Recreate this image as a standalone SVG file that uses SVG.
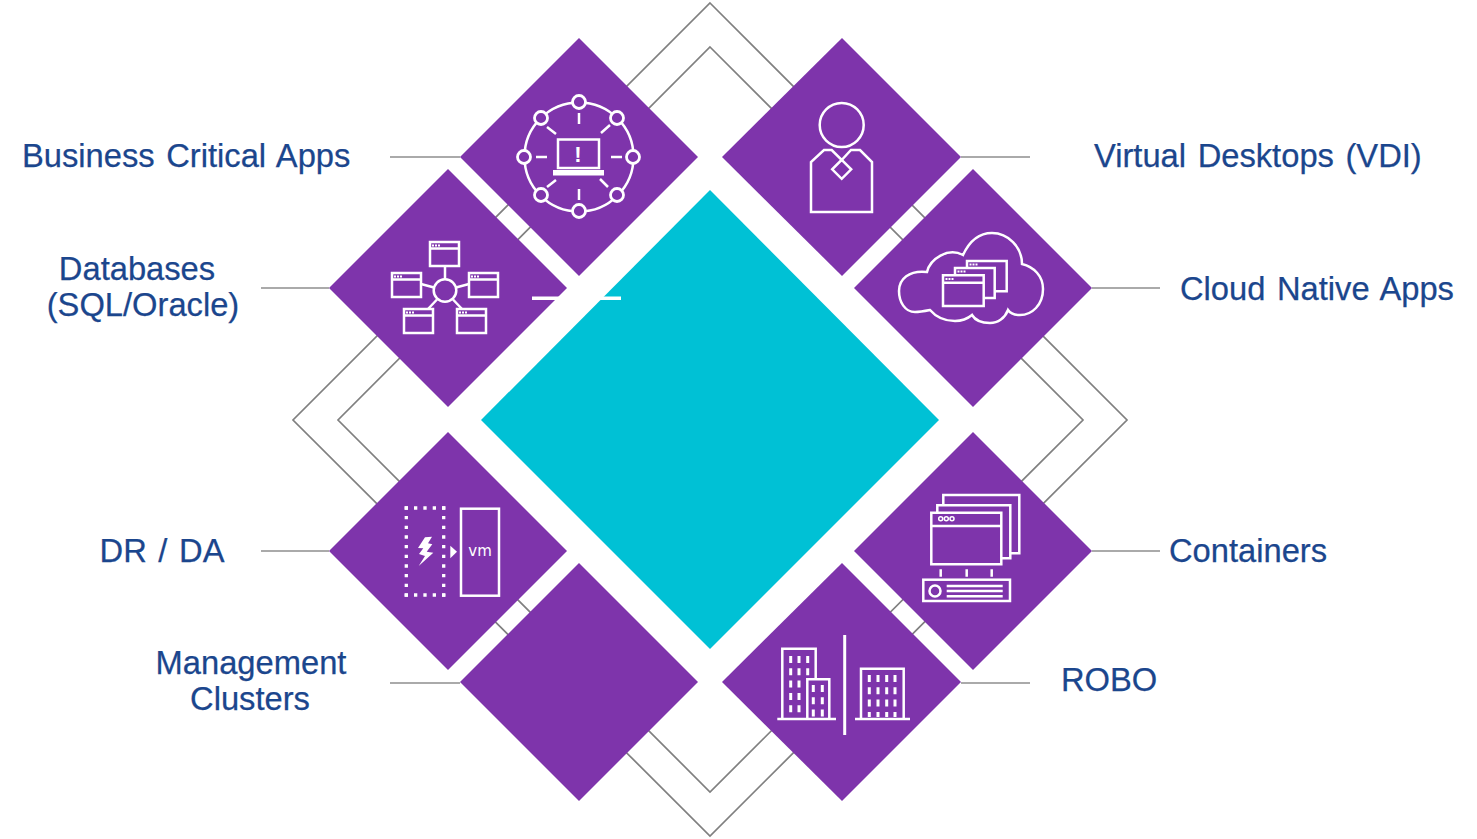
<svg xmlns="http://www.w3.org/2000/svg" width="1477" height="839" viewBox="0 0 1477 839">
<style>
.d{fill:#7e34ab}
.l{fill:none;stroke:#808080;stroke-width:1.7}
.h{fill:none;stroke:#aaa;stroke-width:2}
.i{fill:none;stroke:#fff;stroke-width:2.500}
.f{fill:#fff}
.t{font-family:"Liberation Sans",Arial,sans-serif;font-size:32.700px;fill:#1b468d;stroke:#1b468d;stroke-width:.25;word-spacing:2.500px}
</style>
<rect width="1477" height="839" fill="#fff"/>
<g id="connectors">
<polygon class="l" points="710,3 1127,420 710,836 293,420"/>
<polygon class="l" points="710,47 1083,420 710,792 338,420"/>
<path class="h" d="M390 157H460M261 288H329M261 551H329M390 683H460M961 157H1030M1092 288H1160M1092 551H1160M961 683H1030"/>
</g>
<g id="center"><polygon points="710,190 939,420 710,649 481,420" fill="#00c1d5"/></g>
<g id="business-critical">
<polygon class="d" points="579,38 698,157 579,276 460,157"/>
<circle class="i" cx="579" cy="157" r="54.500"/>
<g fill="#7e34ab" stroke="#fff" stroke-width="2.800"><circle cx="579" cy="102" r="6.500"/><circle cx="579" cy="211" r="6.500"/><circle cx="524" cy="157" r="6.500"/><circle cx="633" cy="157" r="6.500"/><circle cx="541" cy="118" r="6.500"/><circle cx="617" cy="118" r="6.500"/><circle cx="541" cy="195" r="6.500"/><circle cx="617" cy="195" r="6.500"/></g>
<path class="i" d="M579 113V124M579 189V200M536 157H547M611 157H622M547 127L556 134M610 125L601 133M547 187L556 180M608 187L600 179"/>
<rect class="i" x="558" y="139.500" width="41" height="28.500"/>
<rect class="f" x="553" y="170" width="51" height="5.500"/>
<text x="578" y="162" font-family="Liberation Sans,sans-serif" font-size="22" font-weight="bold" fill="#fff" text-anchor="middle">!</text>
</g>
<g id="databases">
<polygon class="d" points="448,169 567,288 448,407 329,288"/>
<g class="i"><circle cx="445" cy="290.500" r="11.300"/>
<path d="M445 266V279M421 284L434 287.500M469 284L456 287.500M428 309L437 299.500M462 309L453 299.500"/>
<path d="M430 242h29v24h-29zM430 248.500h29M392 273h29v24h-29zM392 279.500h29M469 273h29v24h-29zM469 279.500h29M404 309h29v24h-29zM404 315.500h29M457 309h29v24h-29zM457 315.500h29"/></g>
<path d="M432 245.500h9M394 276.500h9M471 276.500h9M406 312.500h9M459 312.500h9" stroke="#fff" stroke-width="2" stroke-dasharray="2 1"/>
<rect class="f" x="532" y="296.500" width="89" height="3.500"/>
</g>
<g id="virtual-desktops">
<polygon class="d" points="842,38 961,157 842,276 722,157"/>
<g class="i"><circle cx="841.700" cy="125" r="22"/>
<path d="M811 212V162L824 150H831.700L841.700 160L851 150H860L872 162V212Z"/>
<polygon points="841.700,159.800 851.200,169.300 841.700,178.800 832.200,169.300"/></g>
</g>
<g id="cloud-native">
<polygon class="d" points="973,169 1092,288 973,407 854,288"/>
<g class="i"><path d="M915 312C905 312 899 302 899 291C899 279 909 270 927 272C930 259 948 247 963 255C970 240 980 233 992 233C1008 233 1022 247 1022 264C1034 267 1043 276 1043 289C1043 305 1032 315 1020 315C1015 315 1010 313 1008 310C1005 318 998 323 990 323C982 323 975 320 972 315C966 320 960 321 955 321C945 321 936 317 930 310C925 311 920 312 915 312Z"/>
<path d="M943 275.300H983.700V306H943ZM943 282.700H983.700M955 275V268H994.700V298H983.700M967 268V261H1006.700V291.300H994.700"/></g>
<path d="M945.500 279h9M957.500 271.500h9M969.500 264.500h9" stroke="#fff" stroke-width="2" stroke-dasharray="2 1"/>
</g>
<g id="dr-da">
<polygon class="d" points="448,432 567,551 448,670 329,551"/>
<path fill="none" stroke="#fff" stroke-width="3.300" stroke-dasharray="3.300 6.050" d="M404.650 508H445.350M404.650 595H445.350"/>
<path fill="none" stroke="#fff" stroke-width="3.300" stroke-dasharray="3.300 6.370" d="M406.300 506.350V596.650M443.700 506.350V596.650"/>
<rect class="i" x="461" y="508.700" width="38" height="87"/>
<polygon class="f" points="450.300,545.700 457,551.700 450.300,558.300"/>
<polygon class="f" points="425,537.300 432,536.700 428,543.300 432.300,544.300 426.700,551.700 433.300,552.700 418.700,566 425,556 419,554 423.300,548.300 418,548"/>
<text x="480" y="556" font-family="DejaVu Sans,sans-serif" font-size="15" fill="#fff" text-anchor="middle">vm</text>
</g>
<g id="containers">
<polygon class="d" points="973,432 1092,551 973,670 854,551"/>
<g class="i"><path d="M931.300 512.700H1001.300V564.300H931.300ZM931.300 526H1001.300M937.300 512.700V505.300H1010.300V558.300H1001.300M943.300 505V495H1019.300V553.300H1010.300"/>
<path d="M940.700 569.300V576.700M966.700 569.300V576.700M991.700 569.300V576.700M946.700 586H1002.700M946.700 591H1002.700M946.700 596.300H1002.700"/>
<rect x="923.300" y="579.700" width="86.700" height="21.300"/>
<circle cx="935" cy="591" r="5.500"/></g>
<g fill="none" stroke="#fff" stroke-width="1.500"><circle cx="940.700" cy="518.700" r="2"/><circle cx="946.300" cy="518.700" r="2"/><circle cx="952" cy="518.700" r="2"/></g>
</g>
<g id="management"><polygon class="d" points="579,563 698,682 579,801 460,682"/></g>
<g id="robo">
<polygon class="d" points="842,563 961,682 842,801 722,682"/>
<g class="i"><path d="M844.700 635V735" stroke-width="3"/>
<path d="M782.300 719V648.700H815.700V679M807.300 719V679.300H829.300V719M777.300 719H836M861 719V668.700H903.700V719M855 719H910"/></g>
<path fill="none" stroke="#fff" stroke-width="3" stroke-dasharray="7 5.300" d="M790.700 656V715M799 656V715M807.700 656V679M813.300 685V718M822.300 685V718M869.300 675V717M878 675V717M886.700 675V717M895 675V717"/>
</g>
<g id="labels">
<text class="t" x="22" y="167">Business Critical Apps</text>
<text class="t" x="137" y="280" text-anchor="middle">Databases</text>
<text class="t" x="143" y="316" text-anchor="middle">(SQL/Oracle)</text>
<text class="t" x="162" y="562" text-anchor="middle">DR / DA</text>
<text class="t" x="251" y="674" text-anchor="middle">Management</text>
<text class="t" x="250" y="710" text-anchor="middle">Clusters</text>
<text class="t" x="1094" y="167">Virtual Desktops (VDI)</text>
<text class="t" x="1180" y="300">Cloud Native Apps</text>
<text class="t" x="1169" y="562">Containers</text>
<text class="t" x="1061" y="691">ROBO</text>
</g>
</svg>
